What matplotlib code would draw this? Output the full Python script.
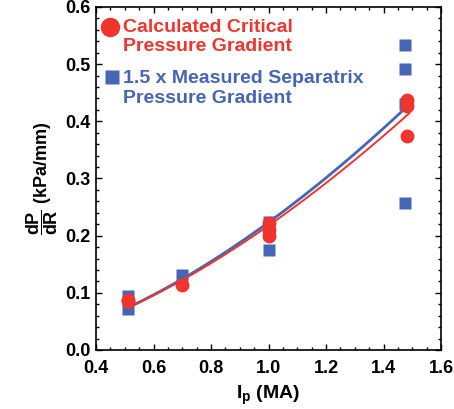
import numpy as np
import pandas as pd
import matplotlib.pyplot as plt
from matplotlib.ticker import MultipleLocator

# plasma current (MA) and pressure gradient (kPa/mm)
ip_calc = [0.51, 0.51, 0.70, 1.00, 1.00, 1.00, 1.48, 1.48, 1.48]
grad_calc = [0.087, 0.085, 0.114, 0.222, 0.210, 0.200, 0.437, 0.427, 0.374]

ip_meas = [0.51, 0.51, 0.70, 1.00, 1.00, 1.00, 1.475, 1.475, 1.475, 1.475]
grad_meas = [0.094, 0.072, 0.131, 0.224, 0.210, 0.175, 0.533, 0.491, 0.430, 0.257]

x_ticks = [0.4, 0.6, 0.8, 1.0, 1.2, 1.4, 1.6]
y_ticks = [0.0, 0.1, 0.2, 0.3, 0.4, 0.5, 0.6]

RED = '#F0352E'
BLUE = '#4565B5'

plt.rcParams['font.family'] = ['Liberation Sans', 'DejaVu Sans']
plt.rcParams['font.weight'] = 'bold'
plt.rcParams['axes.labelweight'] = 'bold'
plt.rcParams['mathtext.fontset'] = 'custom'
plt.rcParams['mathtext.rm'] = 'Liberation Sans:bold'
plt.rcParams['mathtext.it'] = 'Liberation Sans:bold'
plt.rcParams['mathtext.bf'] = 'Liberation Sans:bold'


def power_fit(x, y, x0, x1):
    # y = a * x^b fitted to the mean value at each current
    # (weighted by y so it behaves like a linear-space least squares)
    means = pd.Series(y).groupby(x).mean()
    b, ln_a = np.polyfit(np.log(means.index.values), np.log(means.values), 1,
                         w=means.values)
    xs = np.linspace(x0, x1, 100)
    return xs, np.exp(ln_a) * xs ** b


fig = plt.figure(figsize=(4.54, 4.09), dpi=100)
ax = fig.add_axes([0.2115, 0.1443, 0.7599, 0.8386])

ax.plot(ip_meas, grad_meas, 's', color=BLUE, markersize=8.5, mec='none', zorder=2)
xs, ys = power_fit(ip_meas, grad_meas, 0.51, 1.50)
ax.plot(xs, ys, color=BLUE, lw=2.0, zorder=3)
xs, ys = power_fit(ip_calc, grad_calc, 0.51, 1.49)
ax.plot(xs, ys, color=RED, lw=1.4, zorder=3)
ax.plot(ip_calc, grad_calc, 'o', color=RED, markersize=10, mec='none', zorder=4)

# legend drawn by hand
ax.plot([0.041], [0.942], 'o', color=RED, markersize=14, mec='none',
        transform=ax.transAxes, clip_on=False)
ax.text(0.078, 0.912, 'Calculated Critical\nPressure Gradient', color=RED,
        fontsize=14, va='center', ha='left', linespacing=1.2, transform=ax.transAxes)
ax.plot([0.046], [0.796], 's', color=BLUE, markersize=9.5, mec='none',
        transform=ax.transAxes, clip_on=False)
ax.text(0.078, 0.762, '1.5 x Measured Separatrix\nPressure Gradient', color=BLUE,
        fontsize=14, va='center', ha='left', linespacing=1.2, transform=ax.transAxes)

ax.set_xlim(0.4, 1.6)
ax.set_ylim(0.0, 0.6)
ax.set_xticks(x_ticks)
ax.set_yticks(y_ticks)
ax.set_xticklabels([f'{v:.1f}' for v in x_ticks])
ax.set_yticklabels([f'{v:.1f}' for v in y_ticks])
ax.xaxis.set_minor_locator(MultipleLocator(0.05))
ax.yaxis.set_minor_locator(MultipleLocator(0.02))
ax.tick_params(which='both', direction='in', top=True, right=True, width=1.0)
ax.tick_params(which='major', length=4, labelsize=13)
ax.tick_params(axis='x', which='major', pad=7)
ax.tick_params(axis='y', which='major', pad=4)
ax.tick_params(which='minor', length=2)
for s in ax.spines.values():
    s.set_linewidth(1.2)
    s.set_color('black')

ax.set_xlabel(r'$\mathregular{I_p}$ (MA)', fontsize=14, labelpad=5)
ax.set_ylabel(r'$\dfrac{dP}{dR}$ (kPa/mm)', fontsize=13, labelpad=4)

fig.savefig('out.png', dpi=100)
